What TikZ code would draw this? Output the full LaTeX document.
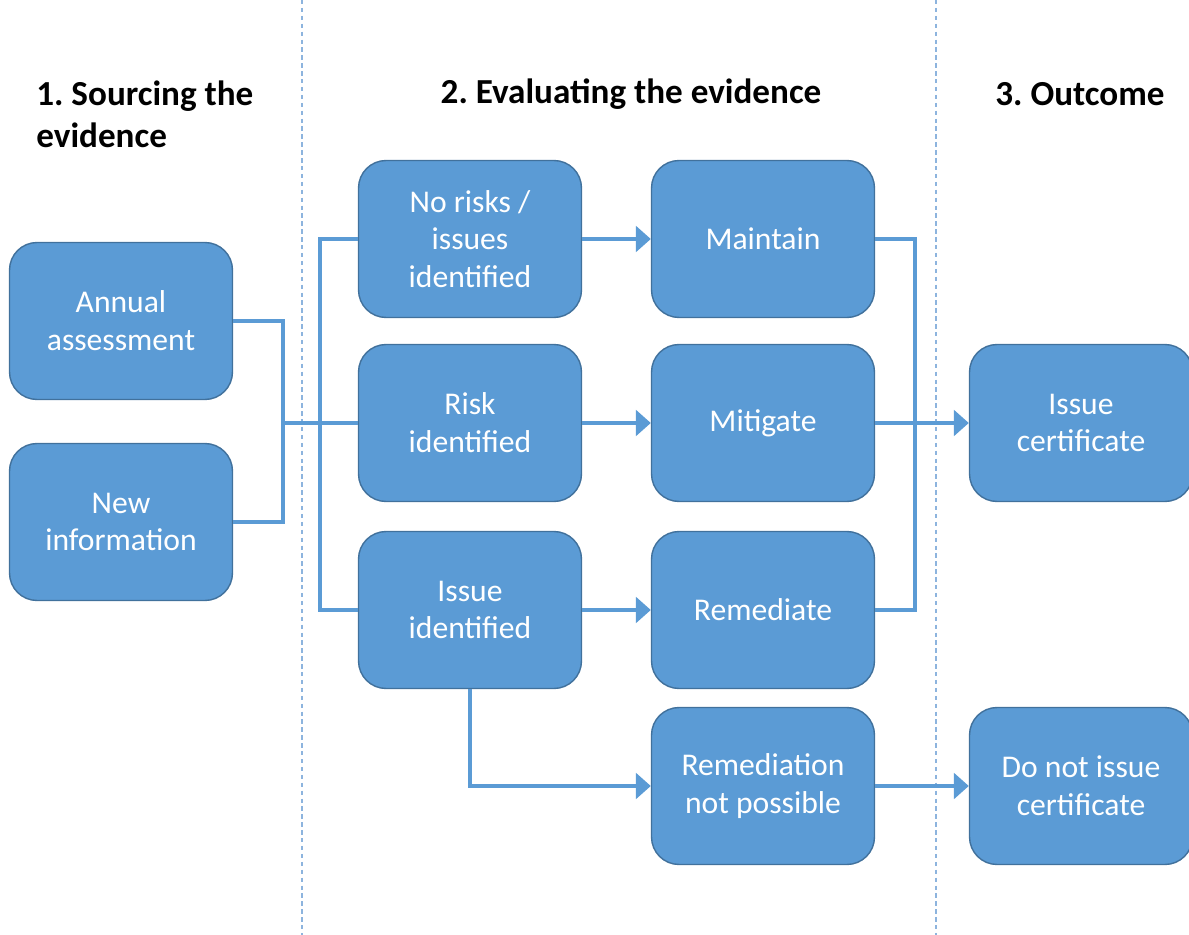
\documentclass[tikz,border=0pt]{standalone}
\usepackage{fontspec}
\setmainfont{Carlito}
\usetikzlibrary{positioning, calc, arrows.meta}
\frenchspacing

\definecolor{caixa}{HTML}{5B9BD5}
\definecolor{borda}{HTML}{41719C}
\definecolor{divisa}{HTML}{8DB4DE}

\begin{document}
\begin{tikzpicture}[x=0.02cm, y=-0.02cm,
					box/.style={draw=borda, line width=0.8pt, fill=caixa, rounded corners=0.55cm,
						minimum width=4.46cm, minimum height=3.14cm, align=center, text=white,
						font=\fontsize{18}{21.5}\selectfont},
					title/.style={font=\fontsize{20}{24}\selectfont\bfseries, align=left, inner sep=0pt},
					link/.style={draw=caixa, line width=2.2pt},
					arrow/.style={link, -{Triangle[length=8.5pt 0, width=14.5pt 0]}} ]
					\useasboundingbox (0,0) rectangle (1189,935);
					
					%Divisões entre as etapas:
					\draw[divisa, line width=0.7pt, dash pattern=on 2.5pt off 2pt] (302,0) -- (302,935);
					\draw[divisa, line width=0.7pt, dash pattern=on 2.5pt off 2pt] (936,0) -- (936,935);
					
					\node[title, anchor=west] (t1) at (36,114) {1. Sourcing the\\evidence};
					\node[title] (t2) at (631,94) {2. Evaluating the evidence};
					\node[title] (t3) at (1080,94) {3. Outcome};
					
					%Caixas:
					\node[box] (annual)   at (121,321) {Annual\\assessment};
					\node[box] (newinfo)  at (121,522) {New\\information};
					\node[box] (norisk)   at (470,239) {No risks /\\issues\\identified};
					\node[box] (risk)     at (470,423) {Risk\\identified};
					\node[box] (issue)    at (470,610) {Issue\\identified};
					\node[box] (maintain) at (763,239) {Maintain};
					\node[box] (mitigate) at (763,423) {Mitigate};
					\node[box] (remediate) at (763,610) {Remediate};
					\node[box] (notposs)  at (763,786) {Remediation\\not possible};
					\node[box] (issuecert) at (1081,423) {Issue\\certificate};
					\node[box] (noissue)  at (1081,786) {Do not issue\\certificate};
					
					\coordinate (juntaE) at (283,423);
					\coordinate (leque)  at (320,423);
					\coordinate (juntaD) at (915,423);
					
					%Ligações:
					\path[link] (annual.east) -| (juntaE)
					(newinfo.east) -| (juntaE)
					(juntaE) -- (risk.west)
					(norisk.west) -| (leque) |- (issue.west)
					(maintain.east) -| (juntaD)
					(remediate.east) -| (juntaD);
					
					\draw[arrow] (norisk) -- (maintain);
					\draw[arrow] (risk) -- (mitigate);
					\draw[arrow] (issue) -- (remediate);
					\draw[arrow] (issue.south) |- (notposs.west);
					\draw[arrow] (mitigate) -- (issuecert);
					\draw[arrow] (notposs) -- (noissue);
				\end{tikzpicture}
\end{document}
